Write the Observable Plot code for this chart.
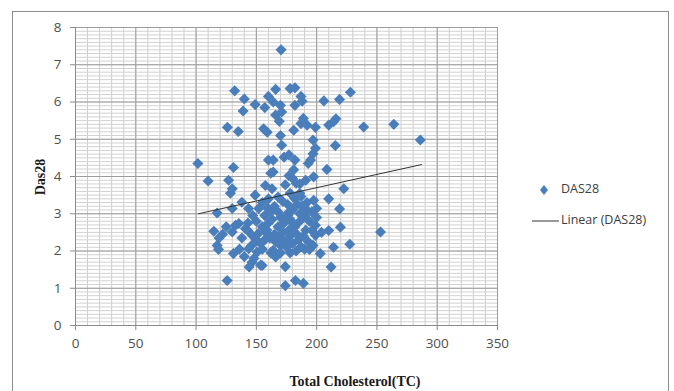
<!DOCTYPE html>
<html>
<head>
<meta charset="utf-8">
<script src="https://cdn.jsdelivr.net/npm/d3@7"></script>
<script src="https://cdn.jsdelivr.net/npm/@observablehq/plot@0.6"></script>
<style>
  html, body { margin: 0; padding: 0; background: #fff; }
  #wrap { position: relative; width: 674px; height: 391px; overflow: hidden; background: #fff; }
  #frame { position: absolute; left: 12px; top: 11px; width: 657px; height: 400px; border: 1px solid #8c8c8c; box-sizing: border-box; }
  #chart { position: absolute; left: 0; top: 0; }
  .ttl { position: absolute; font-family: "Liberation Serif", serif; font-weight: bold; font-size: 14px; color: #1a1a1a; white-space: nowrap; }
  .leg { position: absolute; font-family: "Open Sans", sans-serif; font-size: 12.5px; color: #404040; white-space: nowrap; line-height: 1; }
</style>
</head>
<body>
<div id="wrap">
  <div id="frame"></div>
  <div id="chart"></div>
  <div class="ttl" id="ytitle" style="left:41px; top:177px; transform: translate(-50%,-50%) rotate(-90deg);">Das28</div>
  <div class="ttl" id="xtitle" style="left:355px; top:382px; transform: translate(-50%,-50%);">Total Cholesterol(TC)</div>
  <svg style="position:absolute; left:528px; top:180px;" width="40" height="50">
    <path d="M16,5 L20,10 L16,15 L12,10 Z" fill="#4a7ebb"></path>
    <line x1="4" x2="31" y1="41" y2="41" stroke="#333" stroke-width="1"></line>
  </svg>
  <div class="leg" style="left:561px; top:183px;">DAS28</div>
  <div class="leg" style="left:561px; top:214px;">Linear (DAS28)</div>
</div>
<script>
// Total cholesterol (x) and DAS28 (y) values
const tc = [
  170.5,132,140,139,149,157,166,160,164,170,171,166,178,182,187,188,182,189,187,192,
  126,135,156,159,170,171,181,160,164,173,177,182,101.5,131,206,219,228,199,210,214,
  216,239,264,286,197,199,197,215.5,195,193,208.5,169,
  110,127,130,128.5,164,157.5,163,174,180,186,191,181,177,162,149,197.5,222.5,210,183,187,
  138,117.5,130,143.5,152,197.5,200,219,159.5,172,176,192,114.7,119,117.5,132.7,130,141,146.5,131,
  143.7,146.5,154.8,150.6,166,174,174,182.4,189,125.8,219.7,210,253,199,199,214,227.5,203,212,118.6,
  135.5,142.6,151.6,158.7,168,177,183,191,153.5,164,175,187,194,153.5,144,
  155,160,165,168,170,163,157,150,147,155,160,165,170,173,178,180,184,188,190,186,
  182,178,174,170,166,161,157,150,146,180,185,189,193,196,194,196,192,186,182,178,
  176,168,162,158,172,183,190,178,170,155,138,136,140,148,162,143,125,122,186,200,
  197,204,180,176
];
const das = [
  7.40,6.30,6.08,5.76,5.93,5.85,6.34,6.15,6.00,5.91,5.73,5.65,6.36,6.38,6.15,6.02,5.91,5.56,5.42,5.38,
  5.32,5.21,5.28,5.19,5.10,4.84,5.24,4.44,4.44,4.52,4.58,4.44,4.35,4.24,6.03,6.07,6.26,5.32,5.38,5.47,
  5.55,5.33,5.40,4.98,4.98,4.76,4.61,4.83,4.44,4.35,4.19,5.48,
  3.88,3.90,3.67,3.55,4.12,3.76,3.67,3.78,3.95,3.80,3.90,4.18,4.02,4.09,3.50,3.99,3.67,3.40,3.82,3.46,
  3.31,3.02,3.14,3.14,3.14,3.36,3.14,3.13,3.15,3.33,3.01,3.10,2.53,2.35,2.15,2.69,2.51,2.60,2.42,1.93,
  2.06,1.70,1.61,1.97,1.84,1.58,1.07,1.21,1.13,1.21,2.64,2.55,2.51,2.69,2.42,2.10,2.18,1.93,1.57,2.04,
  2.74,2.56,2.47,2.56,2.65,2.56,2.47,2.56,2.20,2.02,2.11,2.11,2.04,1.62,1.57,
  3.30,3.40,3.20,3.05,2.90,2.85,2.95,2.80,2.95,2.65,2.75,2.45,2.35,2.75,2.85,3.10,3.25,3.20,2.95,2.80,
  2.65,2.40,2.25,2.15,2.25,2.35,2.30,2.30,2.15,2.20,2.30,2.40,2.25,2.55,2.80,3.05,3.30,3.55,3.40,3.55,
  3.25,3.45,3.05,2.50,2.50,2.00,2.05,1.95,1.95,2.05,2.35,2.05,1.85,1.80,1.95,2.75,2.65,2.45,3.00,2.90,
  2.15,2.50,2.75,2.95
];
// Linear trend line (DAS28) endpoints
const trendTC = [102, 287];
const trendDAS = [3.0, 4.32];
// Axis ticks
const xTicks = [0, 50, 100, 150, 200, 250, 300, 350];
const yTicks = [0, 1, 2, 3, 4, 5, 6, 7, 8];
const xMinor = d3.range(0, 351, 10);
const yMinor = d3.range(0, 80.5, 1).map(d => d / 10);

const points = tc.map((x, i) => ({x, y: das[i]}));
const trend = trendTC.map((x, i) => ({x, y: trendDAS[i]}));

const chart = Plot.plot({
  width: 674,
  height: 391,
  marginLeft: 75,
  marginRight: 177,
  marginTop: 27,
  marginBottom: 66,
  x: {domain: [0, 350]},
  y: {domain: [0, 8]},
  style: {fontFamily: "Open Sans, sans-serif", fontSize: "13.5px", color: "#505050", background: "transparent"},
  marks: [
    Plot.gridX(xMinor, {stroke: "#cdcdcd", strokeOpacity: 1, strokeWidth: 1}),
    Plot.gridY(yMinor, {stroke: "#d2d2d2", strokeOpacity: 1, strokeWidth: 1}),
    Plot.gridX(xTicks, {stroke: "#9c9c9c", strokeOpacity: 1, strokeWidth: 1}),
    Plot.gridY(yTicks, {stroke: "#9c9c9c", strokeOpacity: 1, strokeWidth: 1}),
    Plot.ruleX([0], {stroke: "#8a8a8a"}),
    Plot.ruleY([0], {stroke: "#8a8a8a"}),
    Plot.axisX({ticks: xTicks, tickSize: 5, tickPadding: 8, stroke: "#8a8a8a", label: null, fill: "#505050"}),
    Plot.axisY({ticks: yTicks, tickSize: 5, tickPadding: 9, stroke: "#8a8a8a", label: null, fill: "#505050"}),
    Plot.dot(points, {x: "x", y: "y", symbol: "diamond2", r: 5, fill: "#4a7ebb", stroke: "none"}),
    Plot.line(trend, {x: "x", y: "y", stroke: "#333", strokeWidth: 1})
  ]
});
document.getElementById("chart").appendChild(chart);
</script>
</body>
</html>
